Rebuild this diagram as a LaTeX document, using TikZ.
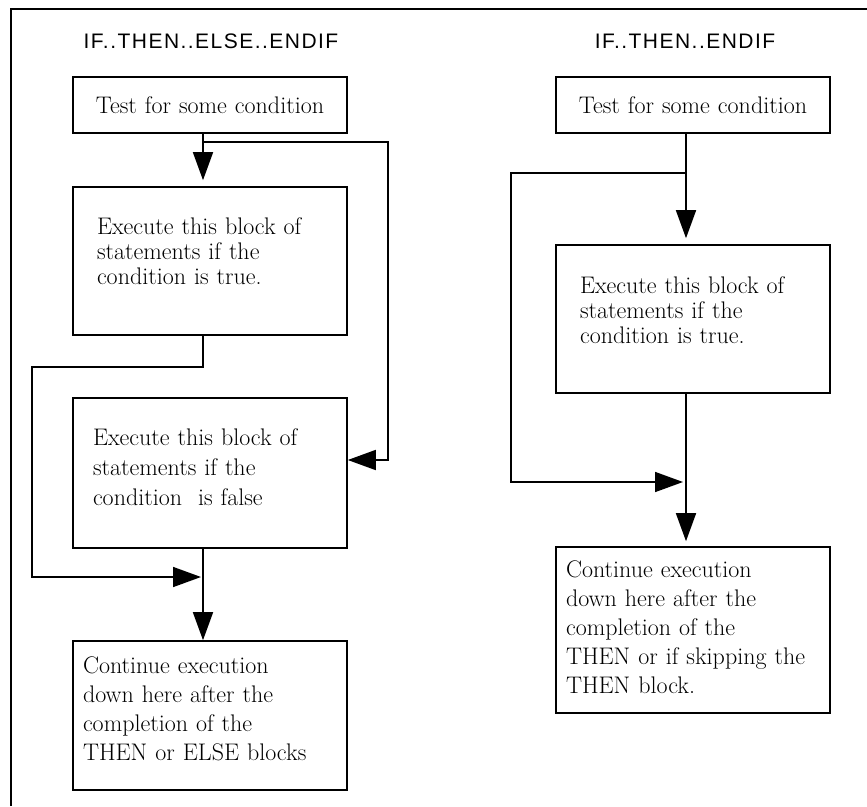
\documentclass[tikz,border=0pt]{standalone}
\usepackage{fontspec}
\usepackage{tikz}
\usetikzlibrary{arrows.meta}
\newfontfamily\titlefont[LetterSpace=7]{Liberation Sans}
\newcommand\padbelow[1]{\rule[-#1]{0pt}{0pt}}

\begin{document}
\begin{tikzpicture}[x=1pt,y=-1pt,line width=1.6pt,
    flow/.style={-{Triangle[length=28pt,width=20pt]}},
    title/.style={font=\titlefont\fontsize{21}{25}\selectfont},
    testbox/.style={draw,minimum width=274pt,minimum height=56pt,inner xsep=8pt,
      text width=258pt,align=center,font=\fontsize{24}{25}\selectfont},
    blockbox/.style={draw,inner xsep=24pt,text width=226pt,align=left,
      font=\fontsize{24}{25}\selectfont},
    contbox/.style={draw,inner xsep=10pt,text width=254pt,align=left,
      font=\fontsize{24}{29}\selectfont}]
  \useasboundingbox (0,0) rectangle (867,806);
  \draw (11,806) |- (867,9);
  % IF..THEN..ELSE..ENDIF
  \node[title] (ifelse) at (211,41) {IF..THEN..ELSE..ENDIF};
  \node[testbox] (testL) at (210,105) {Test for some condition};
  \node[blockbox,minimum height=148pt] (thenL) at (210,261)
    {Execute this block of\\statements if the\\condition is true.\padbelow{20pt}};
  \node[blockbox,inner xsep=20pt,text width=234pt,minimum height=150pt,
    font=\fontsize{24}{30}\selectfont] (elseL) at (210,473)
    {Execute this block of\\statements if the\\condition~ is false\padbelow{12pt}};
  \node[contbox,minimum height=149pt] (contL) at (210,715.5)
    {Continue execution\\down here after the\\completion of the\\THEN or ELSE blocks\padbelow{14pt}};
  \coordinate (stemL) at (203,0);
  \coordinate (forkL) at (203,142);
  \coordinate (railL) at (388,142);
  \coordinate (dropL) at (32,367);
  \coordinate (mergeL) at (201,577);
  \draw[flow,shorten >=6pt] (testL.south -| stemL) -- (thenL.north -| stemL);
  \draw[flow] (forkL) -- (railL) |- (elseL.east |- 0,460);
  \draw[flow] (thenL.south -| stemL) |- (dropL) |- (mergeL);
  \draw[flow] (elseL.south -| stemL) -- (contL.north -| stemL);
  % IF..THEN..ENDIF
  \node[title] (ifonly) at (685,41) {IF..THEN..ENDIF};
  \node[testbox] (testR) at (693,105) {Test for some condition};
  \node[blockbox,minimum height=148pt] (thenR) at (693,319)
    {Execute this block of\\statements if the\\condition is true.\padbelow{18pt}};
  \node[contbox,minimum height=166pt] (contR) at (693,630)
    {Continue execution\\down here after the\\completion of the\\THEN or if skipping the\\THEN block.\padbelow{5pt}};
  \coordinate (stemR) at (686,0);
  \coordinate (forkR) at (686,173);
  \coordinate (railR) at (511,173);
  \coordinate (mergeR) at (683,482);
  \draw[flow,shorten >=6pt] (testR.south -| stemR) -- (thenR.north -| stemR);
  \draw[flow] (forkR) -- (railR) |- (mergeR);
  \draw[flow,shorten >=5pt] (thenR.south -| stemR) -- (contR.north -| stemR);
\end{tikzpicture}
\end{document}
